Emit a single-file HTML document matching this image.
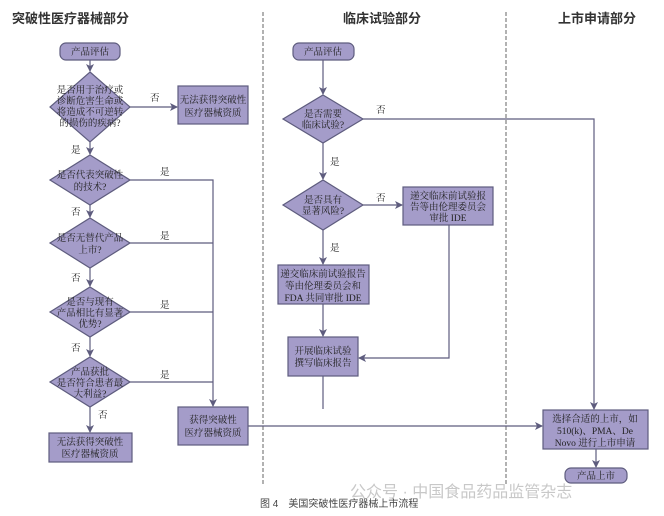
<!DOCTYPE html>
<html><head><meta charset="utf-8"><style>
html,body{margin:0;padding:0;background:#fff;}
svg{display:block;}
text{font-family:"Liberation Serif","Noto Serif CJK SC",serif;fill:#222;}
.t{font-size:13px;font-weight:bold;font-family:"Liberation Sans","Noto Sans CJK SC",sans-serif;fill:#333;}
.n{font-size:9.5px;text-anchor:middle;}
.l{font-size:9.5px;}
.s{fill:#a49cc9;stroke:#5e5c7e;stroke-width:1.2;}
.c{stroke:#5e5c7e;stroke-width:1.2;fill:none;}
.d{stroke:#666;stroke-width:1;stroke-dasharray:4,2;}
</style></head><body>
<svg width="664" height="516" viewBox="0 0 664 516" xmlns="http://www.w3.org/2000/svg">
<defs><marker id="a" markerWidth="8" markerHeight="8" refX="7" refY="4" orient="auto" markerUnits="userSpaceOnUse"><path d="M0,0 L8,4 L0,8 L2,4 z" fill="#5e5c7e"/></marker></defs>
<line class="d" x1="263" y1="12" x2="263" y2="486"/>
<line class="d" x1="506" y1="12" x2="506" y2="486"/>
<text class="t" x="12" y="23">突破性医疗器械部分</text>
<text class="t" x="382" y="23" text-anchor="middle">临床试验部分</text>
<text class="t" x="597" y="23" text-anchor="middle">上市申请部分</text>

<!-- left column -->
<rect class="s" x="60" y="43" width="60" height="17" rx="6"/>
<text class="n" x="90" y="55">产品评估</text>
<line class="c" x1="90" y1="60" x2="90" y2="71" marker-end="url(#a)"/>
<polygon class="s" points="90,72 130,107 90,142 50,107"/>
<text class="n" x="90" y="93">是否用于治疗或</text>
<text class="n" x="90" y="104">诊断危害生命或</text>
<text class="n" x="90" y="115">将造成不可逆转</text>
<text class="n" x="90" y="126">的损伤的疾病?</text>
<line class="c" x1="130" y1="107" x2="177" y2="107" marker-end="url(#a)"/>
<text class="l" x="150" y="101">否</text>
<rect class="s" x="178" y="86" width="70" height="38"/>
<text class="n" x="213" y="103">无法获得突破性</text>
<text class="n" x="213" y="116">医疗器械资质</text>
<line class="c" x1="90" y1="142" x2="90" y2="154" marker-end="url(#a)"/>
<text class="l" x="71" y="153">是</text>

<polygon class="s" points="90,155 130,180 90,205 50,180"/>
<text class="n" x="90" y="178">是否代表突破性</text>
<text class="n" x="90" y="190">的技术?</text>
<text class="l" x="160" y="175">是</text>
<line class="c" x1="90" y1="205" x2="90" y2="217" marker-end="url(#a)"/>
<text class="l" x="71" y="215">否</text>

<polygon class="s" points="90,218 130,243 90,268 50,243"/>
<text class="n" x="90" y="241">是否无替代产品</text>
<text class="n" x="90" y="253">上市?</text>
<text class="l" x="160" y="239">是</text>
<line class="c" x1="90" y1="268" x2="90" y2="286" marker-end="url(#a)"/>
<text class="l" x="71" y="281">否</text>

<polygon class="s" points="90,287 130,312 90,337 50,312"/>
<text class="n" x="90" y="305">是否与现有</text>
<text class="n" x="90" y="316">产品相比有显著</text>
<text class="n" x="90" y="327">优势?</text>
<text class="l" x="160" y="308">是</text>
<line class="c" x1="90" y1="337" x2="90" y2="356" marker-end="url(#a)"/>
<text class="l" x="71" y="351">否</text>

<polygon class="s" points="90,357 130,382 90,407 50,382"/>
<text class="n" x="90" y="375">产品获批</text>
<text class="n" x="90" y="386">是否符合患者最</text>
<text class="n" x="90" y="397">大利益?</text>
<text class="l" x="160" y="378">是</text>
<line class="c" x1="90" y1="407" x2="90" y2="432" marker-end="url(#a)"/>
<text class="l" x="98" y="418">否</text>
<rect class="s" x="49" y="433" width="83" height="29"/>
<text class="n" x="90" y="445">无法获得突破性</text>
<text class="n" x="90" y="457">医疗器械资质</text>

<polyline class="c" points="130,180 213,180 213,406" marker-end="url(#a)"/>
<line class="c" x1="130" y1="243" x2="213" y2="243"/>
<line class="c" x1="130" y1="312" x2="213" y2="312"/>
<line class="c" x1="130" y1="382" x2="213" y2="382"/>
<rect class="s" x="178" y="407" width="70" height="38"/>
<text class="n" x="213" y="423">获得突破性</text>
<text class="n" x="213" y="436">医疗器械资质</text>
<line class="c" x1="248" y1="426" x2="542" y2="426" marker-end="url(#a)"/>

<!-- middle -->
<rect class="s" x="293" y="43" width="61" height="17" rx="6"/>
<text class="n" x="323" y="55">产品评估</text>
<line class="c" x1="323" y1="60" x2="323" y2="94" marker-end="url(#a)"/>
<polygon class="s" points="323,95 363,119 323,143 283,119"/>
<text class="n" x="323" y="117">是否需要</text>
<text class="n" x="323" y="128">临床试验?</text>
<text class="l" x="376" y="113">否</text>
<polyline class="c" points="363,119 594,119 594,409" marker-end="url(#a)"/>
<line class="c" x1="323" y1="143" x2="323" y2="179" marker-end="url(#a)"/>
<text class="l" x="330" y="165">是</text>
<polygon class="s" points="323,180 363,205 323,230 283,205"/>
<text class="n" x="323" y="203">是否具有</text>
<text class="n" x="323" y="214">显著风险?</text>
<text class="l" x="376" y="201">否</text>
<line class="c" x1="363" y1="205" x2="402" y2="205" marker-end="url(#a)"/>
<rect class="s" x="403" y="187" width="90" height="38"/>
<text class="n" x="448" y="199">递交临床前试验报</text>
<text class="n" x="448" y="210">告等由伦理委员会</text>
<text class="n" x="448" y="221">审批 IDE</text>
<line class="c" x1="323" y1="230" x2="323" y2="264" marker-end="url(#a)"/>
<text class="l" x="330" y="251">是</text>
<rect class="s" x="278" y="265" width="91" height="39"/>
<text class="n" x="323" y="277">递交临床前试验报告</text>
<text class="n" x="323" y="289">等由伦理委员会和</text>
<text class="n" x="323" y="301">FDA 共同审批 IDE</text>
<line class="c" x1="323" y1="304" x2="323" y2="336" marker-end="url(#a)"/>
<rect class="s" x="288" y="337" width="70" height="39"/>
<text class="n" x="323" y="354">开展临床试验</text>
<text class="n" x="323" y="366">撰写临床报告</text>
<polyline class="c" points="449,225 449,358 359,358" marker-end="url(#a)"/>
<line class="c" x1="323" y1="376" x2="323" y2="409"/>

<!-- right -->
<rect class="s" x="543" y="410" width="105" height="39"/>
<text class="n" x="595" y="422">选择合适的上市，如</text>
<text class="n" x="595" y="434">510(k)、PMA、De</text>
<text class="n" x="595" y="446">Novo 进行上市申请</text>
<line class="c" x1="596" y1="449" x2="596" y2="467" marker-end="url(#a)"/>
<rect class="s" x="565" y="468" width="62" height="15" rx="6"/>
<text class="n" x="596" y="479">产品上市</text>

<text x="350" y="497" style="font-size:16px;fill:#c8c8c8;font-family:'Liberation Sans','Noto Sans CJK SC',sans-serif;">公众号 · 中国食品药品监管杂志</text>
<text x="260" y="507" style="font-size:10px;fill:#444;font-family:'Liberation Sans','Noto Sans CJK SC',sans-serif;">图 4　美国突破性医疗器械上市流程</text>
</svg>
</body></html>
